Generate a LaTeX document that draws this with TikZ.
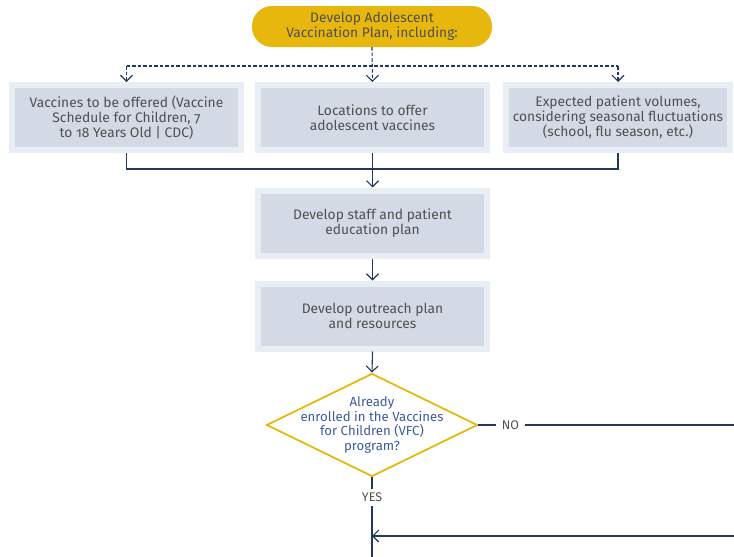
\documentclass[tikz,border=0pt]{standalone}
\usepackage{fontspec}
\setmainfont{Fira Sans}[Numbers=OldStyle]
\usetikzlibrary{arrows.meta,shapes.geometric}

\definecolor{navy}{HTML}{1F3A5F}
\definecolor{gold}{HTML}{E8B70D}
\definecolor{boxfill}{HTML}{D3DAE6}
\definecolor{boxrim}{HTML}{E9EDF4}
\definecolor{txtgray}{HTML}{505050}
\definecolor{qblue}{HTML}{3D5C9A}

\tikzset{
  pill/.style={fill=gold,rounded corners=20pt,minimum width=240pt,minimum height=41pt,
    align=center,text=txtgray,font=\fontsize{13.8}{15}\selectfont},
  planbox/.style={fill=boxfill,draw=boxrim,line width=6pt,minimum width=229pt,
    minimum height=65pt,align=center,text=txtgray,font=\fontsize{13.8}{15}\selectfont},
  decision/.style={diamond,draw=gold,line width=1.8pt,minimum width=211pt,
    minimum height=103pt,inner sep=0pt},
  qtext/.style={text=qblue,align=center,font=\fontsize{13.2}{14.7}\selectfont},
  flow/.style={draw=navy,line width=1.1pt},
  arr/.style={flow,-{Straight Barb[length=6pt,width=12pt]}},
  dashline/.style={flow,dash pattern=on 3.5pt off 2pt},
  answer/.style={fill=white,text=txtgray,font=\fontsize{12.5}{13}\selectfont}
}

\begin{document}
\begin{tikzpicture}[x=1pt,y=-1pt]
\useasboundingbox (0,0) rectangle (734,557);

% plan and its three parts
\node[pill] (plan) at (372,26.5) {Develop Adolescent\\Vaccination Plan, including:};
\node[planbox] (vacc) at (126.5,117.5) {Vaccines to be offered (Vaccine\\Schedule for Children, 7\\to 18 Years Old | CDC)};
\node[planbox] (loc) at (372.5,117.5) {Locations to offer\\adolescent vaccines};
\node[planbox,minimum width=224pt] (vol) at (618,117.5) {Expected patient volumes,\\considering seasonal fluctuations\\(school, flu season, etc.)};

\coordinate (split) at (372,66);
\draw[dashline,arr] (plan.south) -- (loc.north);
\draw[dashline] (vacc.north |- split) -- (vol.north |- split);
\draw[dashline,arr] (vacc.north |- split) -- (vacc.north);
\draw[dashline,arr] (vol.north |- split) -- (vol.north);

% next steps
\node[planbox] (staff) at (372.5,223) {Develop staff and patient\\education plan};
\node[planbox] (reach) at (372.5,316) {Develop outreach plan\\and resources};

\coordinate (join) at (372,169);
\draw[flow] (vacc.south) -- (vacc.south |- join) -- (vol.south |- join) -- (vol.south);
\draw[arr] (loc.south) -- (staff.north);
\draw[arr] (staff.south) -- (reach.north);

% VFC question
\node[decision,label={[qtext]center:{Already\\enrolled in the Vaccines\\for Children (VFC)\\program?}}] (vfc) at (372,425) {};
\draw[arr] (reach.south) -- (vfc.north);

\coordinate (noend) at (734,425);
\coordinate (down) at (372,557);
\coordinate (back) at (734,536);
\coordinate (merge) at (372,536);
\draw[flow] (vfc.east) -- node[answer,pos=0.125,inner xsep=6pt,inner ysep=1pt] {NO} (noend);
\draw[flow] (vfc.south) -- node[answer,pos=0.25,inner xsep=1pt,inner ysep=4pt] {YES} (down);
\draw[arr] (back) -- (merge);
\end{tikzpicture}
\end{document}
